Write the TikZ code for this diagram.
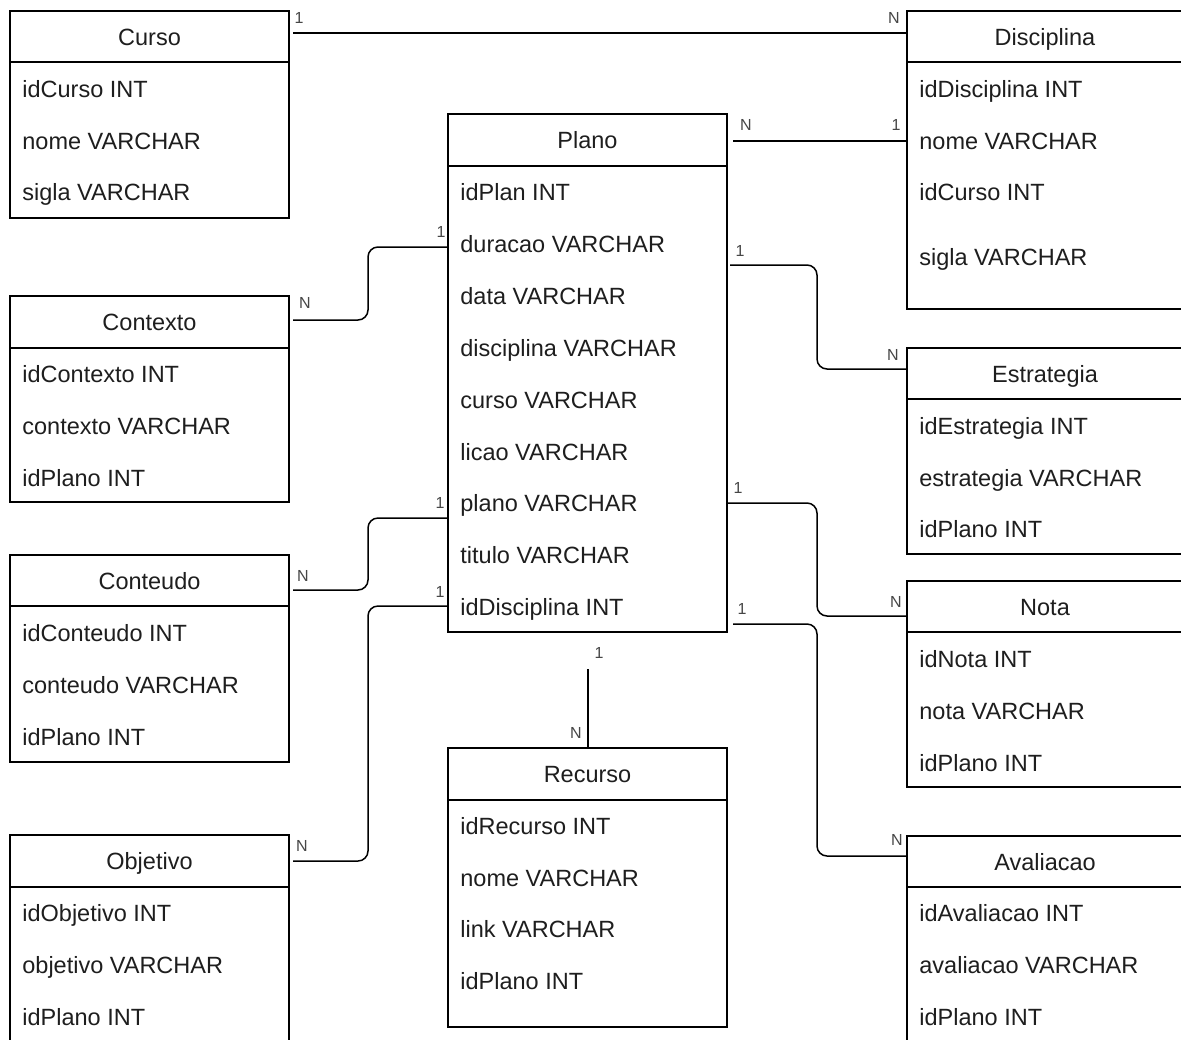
\documentclass[tikz,border=0pt]{standalone}
\usepackage{fontspec}
\setmainfont{Liberation Sans}
\definecolor{txt}{RGB}{30,30,30}
\definecolor{lbl}{RGB}{70,70,70}
\tikzset{
  ent/.style={draw=black, line width=0.75pt, inner sep=0pt, outer sep=0pt, anchor=north west, fill=white},
  hdr/.style={ent, font=\fontsize{11.75}{14}\selectfont, text=txt, text height=8.5pt, text depth=0pt},
  fld/.style={anchor=west, inner sep=0pt, font=\fontsize{11.75}{14}\selectfont, text=txt, text height=8.5pt, text depth=0pt},
  card/.style={inner sep=0pt, font=\fontsize{8}{9.5}\selectfont, text=lbl, text height=5.8pt, text depth=0pt},
  rel/.style={draw=black, line width=0.75pt, rounded corners=5pt},
}
\newcommand\mkent[7]{%
  \node[hdr, minimum width=#4*0.5pt, minimum height=#5*0.5pt] (#1H) at (#2,#3) {#7};
  \node[ent, minimum width=#4*0.5pt, minimum height=#6*0.5pt] (#1B) at (#1H.south west) {};
}
\begin{document}
\begin{tikzpicture}[x=0.5pt,y=-0.5pt]
\useasboundingbox (0,0) rectangle (1181,1039);
\clip (0,0) rectangle (1181,1039);
\fill[white] (0,0) rectangle (1181,1039);

% tables
\mkent{curso}{10}{11}{279}{51}{156}{Curso}
\node[fld] (cursoR1) at (22,89) {idCurso INT};
\node[fld] (cursoR2) at (22,141) {nome VARCHAR};
\node[fld] (cursoR3) at (22,192) {sigla VARCHAR};

\mkent{disc}{907}{11}{276}{51}{247}{Disciplina}
\node[fld] (discR1) at (919,89) {idDisciplina INT};
\node[fld] (discR2) at (919,141) {nome VARCHAR};
\node[fld] (discR3) at (919,192) {idCurso INT};
\node[fld] (discR4) at (919,257) {sigla VARCHAR};

\mkent{plano}{448}{114}{279}{52}{466}{Plano}
\node[fld] (planoR1) at (460,192) {idPlan INT};
\node[fld] (planoR2) at (460,244) {duracao VARCHAR};
\node[fld] (planoR3) at (460,296) {data VARCHAR};
\node[fld] (planoR4) at (460,348) {disciplina VARCHAR};
\node[fld] (planoR5) at (460,400) {curso VARCHAR};
\node[fld] (planoR6) at (460,452) {licao VARCHAR};
\node[fld] (planoR7) at (460,503) {plano VARCHAR};
\node[fld] (planoR8) at (460,555) {titulo VARCHAR};
\node[fld] (planoR9) at (460,607) {idDisciplina INT};

\mkent{ctx}{10}{296}{279}{52}{154}{Contexto}
\node[fld] (ctxR1) at (22,374) {idContexto INT};
\node[fld] (ctxR2) at (22,426) {contexto VARCHAR};
\node[fld] (ctxR3) at (22,478) {idPlano INT};

\mkent{cont}{10}{555}{279}{51}{156}{Conteudo}
\node[fld] (contR1) at (22,633) {idConteudo INT};
\node[fld] (contR2) at (22,685) {conteudo VARCHAR};
\node[fld] (contR3) at (22,737) {idPlano INT};

\mkent{obj}{10}{835}{279}{52}{170}{Objetivo}
\node[fld] (objR1) at (22,913) {idObjetivo INT};
\node[fld] (objR2) at (22,965) {objetivo VARCHAR};
\node[fld] (objR3) at (22,1017) {idPlano INT};

\mkent{est}{907}{348}{276}{51}{155}{Estrategia}
\node[fld] (estR1) at (919,426) {idEstrategia INT};
\node[fld] (estR2) at (919,478) {estrategia VARCHAR};
\node[fld] (estR3) at (919,529) {idPlano INT};

\mkent{nota}{907}{581}{276}{51}{155}{Nota}
\node[fld] (notaR1) at (919,659) {idNota INT};
\node[fld] (notaR2) at (919,711) {nota VARCHAR};
\node[fld] (notaR3) at (919,763) {idPlano INT};

\mkent{aval}{907}{836}{276}{51}{170}{Avaliacao}
\node[fld] (avalR1) at (919,913) {idAvaliacao INT};
\node[fld] (avalR2) at (919,965) {avaliacao VARCHAR};
\node[fld] (avalR3) at (919,1017) {idPlano INT};

\mkent{rec}{448}{748}{279}{52}{227}{Recurso}
\node[fld] (recR1) at (460,826) {idRecurso INT};
\node[fld] (recR2) at (460,878) {nome VARCHAR};
\node[fld] (recR3) at (460,929) {link VARCHAR};
\node[fld] (recR4) at (460,981) {idPlano INT};

% connector end points
\coordinate (a1) at ([xshift=2pt]cursoH.east |- 0,33);
\coordinate (a2) at (discH.west |- 0,33);
\coordinate (b1) at ([xshift=3pt]planoH.east |- 0,141);
\coordinate (b2) at (discB.west |- 0,141);
\coordinate (c1) at (planoB.west |- 0,247);
\coordinate (c2) at ([xshift=2pt]ctxH.east |- 0,320);
\coordinate (d1) at ([xshift=1.5pt]planoB.east |- 0,265);
\coordinate (d2) at (estH.west |- 0,369);
\coordinate (e1) at (planoB.west |- 0,518);
\coordinate (e2) at ([xshift=2pt]contH.east |- 0,590);
\coordinate (f1) at (planoB.west |- 0,606);
\coordinate (f2) at ([xshift=2pt]objH.east |- 0,861);
\coordinate (g1) at ([xshift=0.5pt]planoB.east |- 0,503);
\coordinate (g2) at (notaH.west |- 0,616);
\coordinate (h1) at ([xshift=3pt]planoB.east |- 0,624);
\coordinate (h2) at (avalH.west |- 0,856);
\coordinate (i1) at (588,669);
\coordinate (i2) at (recH.north -| i1);

% connectors
\draw[rel] (a1) -- (a2);
\draw[rel] (b1) -- (b2);
\draw[rel] (c1) -| (368,283) |- (c2);
\draw[rel] (d1) -| (817,317) |- (d2);
\draw[rel] (e1) -| (368,554) |- (e2);
\draw[rel] (f1) -| (368,733) |- (f2);
\draw[rel] (g1) -| (817,560) |- (g2);
\draw[rel] (h1) -| (817,740) |- (h2);
\draw[rel] (i1) -- (i2);

% cardinalities
\node[card] (la1) at (299,18) {1};
\node[card] (la2) at (894,18) {N};
\node[card] (lb1) at (746,125) {N};
\node[card] (lb2) at (896,125) {1};
\node[card] (lc1) at (441,232) {1};
\node[card] (lc2) at (305,303) {N};
\node[card] (ld1) at (740,251) {1};
\node[card] (ld2) at (893,355) {N};
\node[card] (le1) at (440,503) {1};
\node[card] (le2) at (303,576) {N};
\node[card] (lf1) at (440,592) {1};
\node[card] (lf2) at (302,846) {N};
\node[card] (lg1) at (738,488) {1};
\node[card] (lg2) at (896,602) {N};
\node[card] (lh1) at (742,609) {1};
\node[card] (lh2) at (897,840) {N};
\node[card] (li1) at (599,653) {1};
\node[card] (li2) at (576,733) {N};
\end{tikzpicture}
\end{document}
